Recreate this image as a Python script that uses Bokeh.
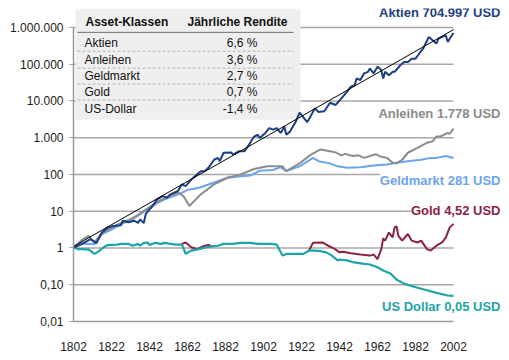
import math
from bokeh.plotting import figure
from bokeh.models import Range1d, FixedTicker, Label
from bokeh.embed import file_html
from bokeh.resources import INLINE

FONT = "Liberation Sans"

# ---------------- data ----------------
x_ticks = [1802, 1822, 1842, 1862, 1882, 1902, 1922, 1942, 1962, 1982, 2002]
y_ticks = [0.01, 0.1, 1, 10, 100, 1000, 10000, 100000, 1000000]
y_tick_labels = ["0,01", "0,10", "1", "10", "100", "1.000", "10.000", "100.000", "1.000.000"]

aktien_years = [1802, 1806, 1811, 1814, 1817, 1820, 1823, 1827, 1828, 1831, 1834, 1836, 1837, 1839,
                1840, 1842, 1843, 1846, 1849, 1851, 1853, 1857, 1859, 1861, 1864, 1865, 1867, 1869,
                1871, 1873, 1876, 1878, 1879, 1881, 1885, 1886, 1889, 1892, 1895, 1897, 1899, 1900,
                1903, 1905, 1907, 1909, 1911, 1913, 1914, 1916, 1919, 1921, 1925, 1927, 1929, 1931,
                1934, 1937, 1940, 1943, 1946, 1948, 1950, 1951, 1953, 1955, 1957, 1958, 1960, 1962,
                1964, 1965, 1966, 1968, 1970, 1971, 1974, 1976, 1978, 1980, 1982, 1984, 1986, 1989,
                1991, 1993, 1994, 1996, 1998, 1999, 2000, 2002]
aktien_values = [1.0, 1.26, 1.74, 1.35, 2.63, 3.63, 3.98, 4.17, 5.5, 5.0, 5.5, 4.8, 6.0, 4.8,
                 8.3, 11.2, 12.6, 20.9, 25.7, 23.4, 28.8, 35.5, 53.7, 47.9, 72.4, 81.3, 100, 123,
                 123, 151, 251, 282, 229, 389, 398, 347, 427, 427, 724, 1072, 1202, 977,
                 1349, 1820, 1660, 1820, 1349, 1995, 1202, 1479, 2754, 4800, 2630, 3981, 6310, 5012,
                 5250, 8913, 7762, 11750, 17800, 24500, 26900, 40700, 37150, 56200, 61650, 75860, 56200, 85100,
                 69200, 40700, 61650, 50100, 61650, 61650, 93300, 114800, 114800, 141250, 141250, 195000, 263000, 549500,
                 446700, 363100, 489800, 549500, 602600, 398100, 489800, 704997]

anleihen_years = [1802, 1806, 1810, 1813, 1817, 1822, 1827, 1832, 1836, 1841, 1846, 1850, 1853, 1857,
                  1860, 1863, 1866, 1869, 1876, 1883, 1890, 1897, 1904, 1912, 1914, 1921, 1927, 1932,
                  1937, 1940, 1943, 1945, 1949, 1952, 1955, 1958, 1961, 1964, 1967, 1970, 1972, 1975,
                  1978, 1983, 1988, 1991, 1993, 1995, 1997, 1999, 2000, 2002]
anleihen_values = [1.0, 1.58, 2.14, 1.41, 2.63, 3.55, 4.79, 6.03, 7.94, 12.0, 17.8, 22.4, 26.3, 33.1,
                   25.1, 13.8, 20.0, 28.8, 53.7, 81.3, 100, 141, 166, 166, 123, 200, 347, 479,
                   427, 398, 331, 363, 316, 331, 282, 316, 355, 302, 282, 209, 200, 251,
                   389, 525, 724, 794, 1072, 1072, 1202, 1349, 1259, 1778]

geld_years = [1802, 1806, 1813, 1817, 1822, 1827, 1832, 1836, 1841, 1846, 1850, 1855, 1859, 1862,
              1866, 1869, 1876, 1883, 1890, 1895, 1900, 1907, 1911, 1914, 1921, 1925, 1928, 1931,
              1937, 1941, 1946, 1953, 1960, 1967, 1972, 1978, 1985, 1990, 1993, 1998, 2002]
geld_values = [1.0, 1.32, 1.26, 2.4, 3.16, 4.47, 5.62, 7.59, 11.2, 16.6, 20.9, 26.3, 31.6, 38.0,
               41.7, 44.7, 60.3, 81.3, 89.1, 93.3, 126, 132, 158, 123, 166, 224, 282, 229,
               200, 166, 151, 158, 174, 186, 209, 229, 251, 282, 282, 316, 281]

nan = float("nan")
gold_years = [1859, 1861, 1864, 1867, 1871, 1873, 1875, nan,
              1926, 1928, 1933, 1936, 1939, 1942, 1944, 1948, 1953, 1958, 1960, 1962, 1964, 1965,
              1966, 1968, 1970, 1971, 1972, 1973, 1975, 1978, 1980, 1983, 1985, 1988, 1990, 1993,
              1996, 1998, 2000, 2002]
gold_values = [1.29, 1.41, 1.05, 0.93, 1.15, 1.2, 1.1, nan,
               0.85, 1.38, 1.41, 1.15, 0.98, 0.76, 0.79, 0.72, 0.66, 0.62, 0.66, 0.5, 0.93, 1.82,
               1.58, 2.63, 1.95, 3.63, 3.89, 2.14, 1.58, 2.4, 1.58, 1.41, 1.58, 0.93, 0.85, 1.15,
               1.41, 1.95, 3.63, 4.52]

usd_years = [1802, 1804, 1807, 1810, 1813, 1815, 1818, 1820, 1825, 1827, 1831, 1833, 1836, 1837,
             1839, 1841, 1842, 1845, 1848, 1850, 1853, 1856, 1858, 1859, 1861, 1864, 1868, 1872,
             1876, 1878, 1881, 1886, 1890, 1895, 1899, 1906, 1909, 1912, 1914, 1920, 1923, 1926,
             1929, 1932, 1935, 1938, 1941, 1942, 1946, 1949, 1955, 1958, 1962, 1965, 1969, 1972,
             1976, 1979, 1983, 1988, 1993, 1999, 2002]
usd_values = [1.15, 0.93, 0.93, 0.9, 0.69, 0.79, 1.05, 1.2, 1.23, 1.29, 1.29, 1.15, 1.29, 1.15,
              1.38, 1.41, 1.2, 1.38, 1.29, 1.38, 1.29, 1.23, 1.23, 1.29, 0.69, 0.85, 0.93, 1.05,
              1.12, 1.15, 1.29, 1.29, 1.38, 1.38, 1.29, 1.29, 1.23, 0.62, 0.69, 0.69, 0.69, 0.85,
              0.85, 0.82, 0.76, 0.62, 0.46, 0.48, 0.46, 0.41, 0.37, 0.355, 0.30, 0.245, 0.2, 0.138,
              0.107, 0.095, 0.083, 0.071, 0.06, 0.051, 0.05]

trend_years = [1802, 2002]
trend_values = [1.1, 870000]

table_header = ["Asset-Klassen", "Jährliche Rendite"]
table_classes = ["Aktien", "Anleihen", "Geldmarkt", "Gold", "US-Dollar"]
table_returns = ["6,6 %", "3,6 %", "2,7 %", "0,7 %", "-1,4 %"]

end_labels = ["Aktien 704.997 USD", "Anleihen 1.778 USD", "Geldmarkt 281 USD",
              "Gold 4,52 USD", "US Dollar 0,05 USD"]

# ---------------- layout helpers (picture pixels -> data) ----------------
PX0, PX_PER_YEAR = 73.0, 1.9         # x pixel of 1802 and px per year
PY_BOTTOM, PX_PER_DEC = 323.0, 37.0  # y pixel of 0.01 and px per decade


def X(px):
    return 1802 + (px - PX0) / PX_PER_YEAR


def Y(py):
    return 10 ** ((PY_BOTTOM - py) / PX_PER_DEC - 2)


C_AKT = "#1c3f80"
C_ANL = "#8c8c8c"
C_GELD = "#6aa3ee"
C_GOLD = "#8b2245"
C_USD = "#1ea3a6"

p = figure(width=501, height=353, title=None,
           x_range=Range1d(1802, X(501)), y_range=Range1d(0.01, Y(8)),
           y_axis_type="log", output_backend="svg", toolbar_location=None,
           min_border_left=73, min_border_right=0, min_border_top=8, min_border_bottom=30)
p.outline_line_color = None
p.grid.visible = False
p.background_fill_color = "white"

# axes
p.xaxis.ticker = FixedTicker(ticks=x_ticks)
p.xaxis.bounds = (1802, 2002)
p.xaxis.axis_line_color = "#9a9a9a"
p.xaxis.axis_line_width = 1.5
p.xaxis.major_tick_line_color = None
p.xaxis.minor_tick_line_color = None
p.xaxis.major_label_standoff = 14
p.xaxis.major_label_text_font = FONT
p.xaxis.major_label_text_font_size = "12px"
p.xaxis.major_label_text_color = "#1a1a1a"

p.yaxis.ticker = FixedTicker(ticks=y_ticks)
p.yaxis.bounds = (0.01, 1000000)
p.yaxis.major_label_overrides = {t: l for t, l in zip(y_ticks, y_tick_labels)}
p.yaxis.axis_line_color = "#9a9a9a"
p.yaxis.axis_line_width = 1.5
p.yaxis.major_tick_line_color = "#9a9a9a"
p.yaxis.major_tick_out = 4
p.yaxis.major_tick_in = 0
p.yaxis.minor_tick_line_color = None
p.yaxis.major_label_standoff = 6
p.yaxis.major_label_text_font = FONT
p.yaxis.major_label_text_font_size = "12px"
p.yaxis.major_label_text_color = "#1a1a1a"

# grid lines (from the y ticks)
p.segment(x0=[1802] * len(y_ticks[1:]), x1=[2002] * len(y_ticks[1:]), y0=y_ticks[1:], y1=y_ticks[1:],
          line_color="#a8a8a8", line_width=1.5)

# table background
p.quad(left=X(75), right=X(300), top=Y(8), bottom=Y(120), fill_color="#efefef", line_color=None)
p.segment(x0=X(77), x1=X(293), y0=Y(32), y1=Y(32), line_color="#6e6e6e", line_width=1)
row_y = [43, 60, 76, 92, 109]
sep_y = [Y(v) for v in [51, 68, 84, 100]]
p.segment(x0=[X(77)] * 4, x1=[X(293)] * 4, y0=sep_y, y1=sep_y,
          line_color="#b4b4b4", line_width=1, line_dash="3 2")

# series
p.line(geld_years, geld_values, line_color=C_GELD, line_width=2)
p.line(anleihen_years, anleihen_values, line_color=C_ANL, line_width=2)
p.line(gold_years, gold_values, line_color=C_GOLD, line_width=2)
p.line(usd_years, usd_values, line_color=C_USD, line_width=2.2)
p.line(aktien_years, aktien_values, line_color=C_AKT, line_width=2)
p.line(trend_years, trend_values, line_color="black", line_width=1)

# table texts
p.add_layout(Label(x=X(85), y=Y(22), text=table_header[0], text_font=FONT, text_font_size="12px",
                   text_font_style="bold", text_baseline="middle", text_color="#111111"))
p.add_layout(Label(x=X(187), y=Y(22), text=table_header[1], text_font=FONT, text_font_size="12px",
                   text_font_style="bold", text_baseline="middle", text_color="#111111"))
for name, ret, ry in zip(table_classes, table_returns, row_y):
    p.add_layout(Label(x=X(84), y=Y(ry), text=name, text_font=FONT, text_font_size="12px",
                       text_baseline="middle", text_color="#111111"))
    p.add_layout(Label(x=X(257), y=Y(ry), text=ret, text_font=FONT, text_font_size="12px",
                       text_baseline="middle", text_align="right", text_color="#111111"))

# end labels
label_colors = [C_AKT, "#8a8a8a", C_GELD, C_GOLD, C_USD]
label_py = [12, 114, 181, 211, 308]
label_bg = [None, None, "white", "white", None]
for txt, col, ly, bg in zip(end_labels, label_colors, label_py, label_bg):
    p.add_layout(Label(x=X(500), y=Y(ly), text=txt, text_font=FONT, text_font_size="13px",
                       text_font_style="bold", text_baseline="middle", text_align="right",
                       text_color=col, background_fill_color=bg))

open("out.html", "w").write(file_html(p, INLINE))
